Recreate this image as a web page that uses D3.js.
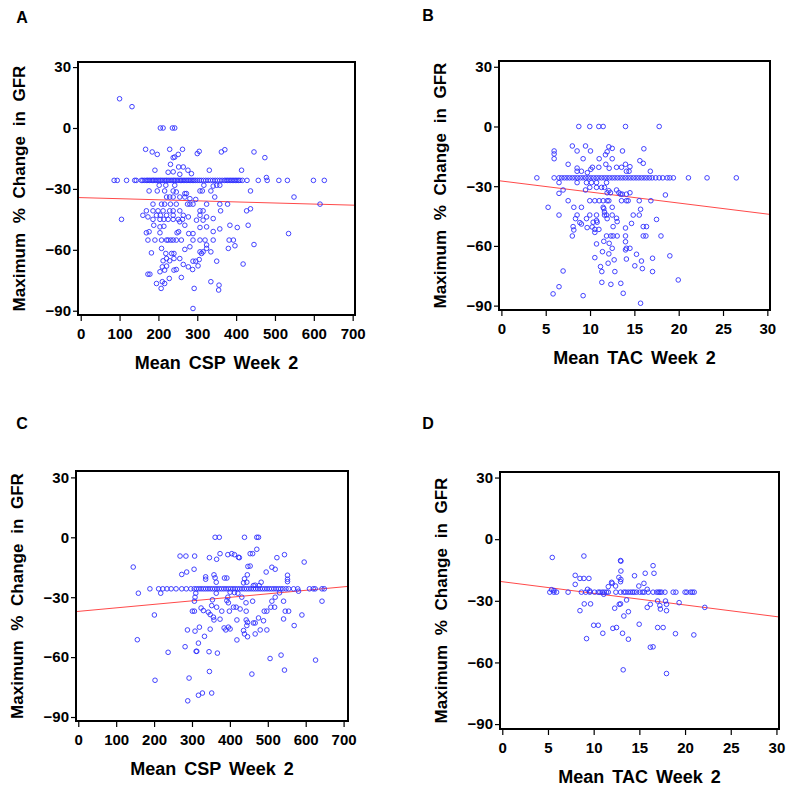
<!DOCTYPE html>
<html>
<head>
<meta charset="utf-8">
<script src="https://cdn.jsdelivr.net/npm/d3@7"></script>
<style>
  body { margin: 0; background: #fff; }
  svg text { font-family: "Liberation Sans", Arial, sans-serif; font-weight: bold; fill: #000; }
</style>
</head>
<body>
<div id="chart"></div>
<script>
// tick labels
var cspTicks = [0, 100, 200, 300, 400, 500, 600, 700];
var tacTicks = [0, 5, 10, 15, 20, 25, 30];
var gfrTicks = [30, 0, -30, -60, -90];

// value of the crowded horizontal row of points
var bandY = -25.8;

// panel A: CSP, first cohort
var bandA = [86, 94, 118, 139, 143, 156, 160, 165, 170, 173, 177, 181, 185, 188, 192, 196, 200, 204, 207, 211, 215, 219, 222, 226, 230, 234, 238, 241, 245, 249, 253, 257, 260, 264, 268, 272, 276, 279, 283, 287, 291, 295, 300, 305, 310, 316, 322, 328, 334, 340, 346, 352, 358, 364, 370, 374, 378, 382, 386, 390, 394, 398, 402, 406, 410, 416, 428, 457, 480, 510, 532, 599, 627];
var pointsA = [
  [100, 14.4], [132, 10.5], [205, 0], [212, 0], [236, 0], [242, 0],
  [167, -10.5], [184, -11.8], [197, -13], [229, -10.5], [262, -10.5], [251, -13], [242, -14.3], [238, -14.6],
  [300, -12.6], [305, -11.5], [362, -11.8], [371, -10.7], [446, -11.8], [474, -14.6],
  [231, -17.9], [252, -19.2], [264, -19.2], [191, -20.8], [276, -20.8], [285, -22.5], [331, -20.8], [414, -20.8],
  [255, -22.8], [225, -21.8], [238, -21.6], [478, -24.4],
  [202, -28.2], [219, -28.2], [242, -28.2], [317, -28.2], [341, -28.6], [350, -28.2], [358, -28.2],
  [176, -31], [197, -31], [216, -31], [238, -31], [246, -31.5], [268, -32.3], [272, -32.3], [307, -31], [313, -31], [335, -31], [437, -31],
  [345, -34], [549, -34], [221, -34], [229, -34], [238, -34], [255, -34], [268, -34], [281, -34.8], [296, -35.2],
  [186, -37.5], [208, -37.5], [216, -37.5], [231, -37.5], [246, -37.5], [275, -37.5], [281, -37.5], [289, -37.5], [324, -37.5], [358, -37.5], [378, -37.5], [616, -37.5],
  [169, -40.8], [186, -40.8], [199, -40.8], [212, -40.8], [229, -40.8], [238, -40.8], [255, -40.8], [307, -40.8], [315, -40.8], [360, -40.8], [427, -40.8], [437, -39.8],
  [160, -43], [173, -43.8], [195, -43], [205, -43], [221, -43], [238, -43], [264, -43], [277, -43.8], [307, -43], [324, -43.8], [341, -44.6],
  [105, -45], [186, -45], [204, -45], [214, -45], [225, -45], [238, -45], [251, -45], [262, -45], [298, -45.4], [315, -45.4],
  [188, -47.9], [204, -48.7], [214, -48.4], [255, -46.2], [268, -47.9], [307, -49], [324, -48.7], [384, -47.9], [403, -49], [431, -47.9], [358, -49.7],
  [169, -51.6], [176, -51.1], [204, -51.6], [248, -51.6], [252, -51.1], [278, -52], [289, -52], [341, -51], [535, -52],
  [173, -55.2], [191, -55.2], [208, -55.2], [221, -55.2], [225, -55.2], [232, -55.2], [238, -55.2], [246, -55.2], [259, -55.2],
  [289, -55.2], [307, -55.2], [320, -55.2], [341, -55.2], [382, -55.2], [393, -55.2],
  [281, -58.5], [324, -57.6], [324, -59.3], [268, -59.8], [208, -59.3], [219, -61.8], [234, -61.8], [240, -61.8],
  [307, -61], [311, -61.8], [315, -61], [335, -61], [380, -59.3], [397, -58], [446, -57.4], [182, -61.5],
  [212, -65.4], [221, -64.3], [229, -65.4], [240, -64.3], [255, -64.3], [289, -65.6], [296, -65.6], [305, -64.8], [350, -65.6], [418, -67],
  [264, -67.2], [277, -68.4], [210, -68.4], [221, -68], [302, -67.9],
  [204, -70.8], [216, -70], [240, -70], [246, -69.7], [288, -69.7], [173, -72], [178, -72],
  [228, -74.1], [259, -73.6], [195, -76.6], [210, -75.7], [216, -76.6], [335, -75.7], [356, -77.4], [355, -79.8],
  [207, -79], [292, -79], [289, -88.9]
];
var trendA = [[0, -34.3], [700, -38.0]];

// panel B: TAC, first cohort
var bandB = [4.0, 5.95, 6.5, 6.8, 7.1, 7.4, 7.7, 8.0, 8.3, 8.6, 8.9, 9.2, 9.5, 9.8, 10.1, 10.4, 10.7, 11.0, 11.3, 11.6, 11.9, 12.2, 12.5, 12.8, 13.1, 13.4, 13.7, 14.0, 14.3, 14.6, 14.9, 15.2, 15.5, 15.8, 16.1, 16.4, 16.7, 17.0, 17.4, 17.8, 18.2, 18.7, 19.0, 19.4, 21.1, 23.2, 26.5];
var pointsB = [
  [8.73, 0], [9.97, 0], [10.99, 0], [11.48, 0], [14.0, 0], [17.8, 0],
  [8.0, -9.8], [9.49, -9.8], [10.05, -12.3], [8.54, -12.3], [5.95, -12.3], [5.95, -13.8], [5.95, -16.2],
  [12.12, -10.2], [12.5, -11], [11.93, -12.7], [11.74, -14.2], [12.5, -16.2], [11.03, -16.2], [9.22, -16.2],
  [13.66, -12.3], [16.07, -11.2], [15.62, -17.2], [16.0, -18.5], [7.53, -19], [11.78, -19],
  [8.54, -20.9], [9.03, -22.5], [8.54, -22.5], [10.27, -20.5], [10.09, -21.5], [10.99, -20.5], [12.16, -21],
  [12.99, -20.5], [13.55, -20.5], [14.0, -19], [14.5, -20.2], [14.4, -22.5], [14.1, -22.5], [16.8, -22.5], [9.7, -23.2],
  [6.5, -28.2], [8.54, -28.2], [9.6, -28.2], [10.16, -28.2], [10.73, -28.2], [11.86, -28.2],
  [6.96, -31.9], [6.5, -33.6], [9.49, -31.9], [9.97, -30.6], [10.73, -30.6], [11.3, -30.6], [11.63, -30.6],
  [12.12, -32.3], [11.93, -33.3], [12.3, -33.3], [12.99, -31.9], [13.25, -33.3], [13.44, -34], [13.63, -34], [14.1, -34], [14.5, -33.3], [18.5, -34.4],
  [7.53, -37.3], [9.97, -37.3], [10.54, -37.3], [11.03, -37.3], [11.48, -37.3], [11.93, -37.3], [12.12, -37.3],
  [13.55, -37.3], [14.1, -37.3], [14.3, -37.3], [15.55, -37.3], [16.86, -37.3],
  [5.27, -40.6], [8.17, -40.6], [9.03, -40.6], [11.48, -40.6], [11.55, -41.3], [12.5, -40.6], [15.7, -41.6],
  [11.63, -43], [11.63, -44.5], [6.5, -44.5], [8.54, -44.5], [9.97, -44.5], [10.73, -44.5], [11.86, -44.5], [12.5, -44.5], [14.87, -44.5], [15.55, -44.5],
  [8.36, -46.3], [9.6, -46.3], [10.73, -47.3], [10.35, -48.1], [10.8, -48.1], [11.93, -46.3], [12.99, -46.1], [13.06, -47.8],
  [14.68, -48.7], [17.5, -46.7], [8.85, -48.3], [9.03, -49],
  [8.09, -50.3], [8.17, -52], [8.0, -55], [9.67, -50.8], [10.24, -50.5], [10.54, -51.7], [11.0, -51.7], [12.6, -50.3], [14.0, -51],
  [16.0, -50.3], [16.37, -50.3], [10.54, -53.2],
  [11.86, -55], [12.35, -55], [12.6, -55], [13.06, -55], [14.0, -55], [16.0, -55], [16.3, -55], [18.0, -55],
  [11.55, -57.7], [12.16, -58.7], [14.0, -57.9], [14.1, -61.2], [14.0, -62], [10.73, -59], [12.5, -61.2], [14.5, -61.2],
  [11.4, -62.9], [12.12, -64], [15.24, -64.2], [10.54, -65.9], [12.72, -67], [14.1, -66.6], [15.8, -67.6], [17.05, -66.2], [19.0, -65],
  [12.04, -68.7], [15.05, -70], [11.18, -70.4], [15.9, -71.4], [11.33, -72.9], [12.8, -72.9], [17.05, -72.9], [6.96, -72.6],
  [19.95, -77.1], [11.33, -78.3], [12.35, -79.3], [13.47, -78.8], [6.5, -80.5], [5.83, -84.1], [9.22, -85], [13.74, -83.8], [15.7, -88.8]
];
var trendB = [[0, -27.4], [30, -44.0]];

// panel C: CSP, second cohort
var bandC = [189, 212, 223, 234, 245, 258, 273, 285, 297, 306, 312, 318, 324, 330, 336, 342, 348, 354, 360, 366, 372, 378, 384, 390, 396, 402, 408, 414, 420, 426, 432, 438, 444, 450, 456, 462, 468, 474, 480, 486, 492, 498, 504, 510, 516, 522, 528, 534, 540, 548, 555, 568, 579, 610, 620, 625, 643, 649];
var pointsC = [
  [361, 0], [372, 0], [438.5, 0], [471, 0], [475.5, 0], [471, -6],
  [268.5, -9.4], [284, -9.4], [307, -9.4], [346, -10.2], [365, -11], [374, -8.2], [394.5, -8.7], [405, -8.2], [412, -8.7],
  [422.6, -10], [425, -10.2], [453.5, -8.2], [460, -8.2], [447.5, -14.6], [453.5, -14.4], [524, -10.2], [544, -8.7], [596, -12.4],
  [145, -14.9], [305.5, -16], [273, -18.6], [286, -17.4], [336, -19.8], [336, -21], [358, -18.8], [361, -20.3], [364, -22.5],
  [385.7, -20.4], [392, -20.4], [438.5, -20.8], [436, -22.8], [446, -18.8], [495.7, -17.4], [510.7, -15], [519.5, -16],
  [552, -19], [552, -21], [552, -22.2], [482.5, -22.5], [466.7, -24], [477, -24.2], [462, -24.2], [444.6, -22.5],
  [217.5, -28], [158.5, -28], [310, -28], [308, -30], [364, -28], [400.6, -27.5], [412, -27.7], [421, -28], [431.4, -30],
  [394.5, -30], [392, -31.7], [396, -32.8], [354, -31.3], [306.4, -32], [442.5, -32.8], [460, -32], [510.7, -32], [519.5, -30],
  [541.6, -32], [531, -27.8], [581, -27], [643, -32],
  [508, -35], [518, -35], [409.5, -35], [416.5, -35], [427, -35.9], [324, -35.4], [330, -36.7], [352, -34.2], [365, -35],
  [301, -37], [306.4, -37], [343, -37.5], [348, -38.7], [356.6, -40], [358, -41.4], [378.6, -37], [398.6, -37], [443, -37],
  [490.6, -37], [497.5, -37], [546, -37], [555, -37], [200.8, -38.9], [475.5, -40.4], [374, -41], [418.5, -41.4],
  [443, -41.4], [446.5, -42.6], [488.7, -41.8], [541.6, -40.9], [590, -38.9], [462, -42.9], [466.7, -42.9], [444.6, -44.2],
  [569.6, -44.2], [384.8, -45.4], [396, -45], [400.6, -45.9], [348, -46], [319.6, -45], [288, -46.4], [308, -47], [436, -46.7],
  [389.2, -46.4], [480, -46.4], [497.5, -46.4], [446.5, -49.8], [438.5, -48.4], [466.7, -48.4], [333, -49.6],
  [155.8, -51.3], [418.5, -51.4], [317, -53], [281.8, -54.8], [237, -57.6], [311, -57.1], [312.6, -57.1], [345, -57.3], [367, -58],
  [506, -60.7], [535, -59], [626, -61.5], [346, -67.2], [544, -66.5], [458, -68.5], [292.3, -70.5], [202.5, -71.6],
  [327.5, -78], [317, -79.1], [352, -78], [288.8, -81.9]
];
var trendC = [[0, -37.1], [700, -24.8]];

// panel D: TAC, second cohort
var bandD = [5.2, 5.65, 5.94, 7.2, 8.66, 9.13, 9.58, 10.1, 10.5, 10.68, 10.94, 11.15, 11.4, 11.6, 12.43, 12.94, 13.3, 13.5, 13.77, 14.03, 14.25, 14.43, 14.69, 15.05, 15.34, 15.53, 15.97, 16.5, 16.9, 17.1, 17.25, 17.43, 17.8, 18.7, 19.0, 20.0, 20.2, 20.6, 20.8, 21.0];
var pointsD = [
  [5.47, -8.9], [8.93, -8.2], [12.94, -10.4], [12.98, -10.7], [16.5, -12.9], [12.98, -15.5], [15.64, -16.6], [16.6, -16.6],
  [7.98, -17.6], [14.47, -17.8], [8.5, -19.1], [8.93, -19.1], [9.48, -19.1], [12.76, -18.6], [12.98, -19.6], [12.94, -20.7],
  [11.96, -21], [12.03, -21.5], [7.98, -22], [11.6, -23.1], [12.4, -22.8], [14.94, -22.8], [15.5, -21.5], [15.86, -24.4],
  [9.33, -24.4], [9.58, -25.2], [5.4, -24.6], [5.65, -25],
  [11.1, -26.8], [13.6, -29.6], [8.97, -31.5], [9.66, -31.5], [12.94, -31.5], [12.8, -31.7], [17.0, -30.1], [17.86, -30.1],
  [17.97, -31.7], [17.97, -34.8], [17.24, -32.3], [17.3, -34], [16.2, -31.7], [15.86, -33.2], [19.35, -30.9], [22.16, -33.2],
  [8.5, -34.8], [12.3, -33.6], [13.8, -35.3], [13.3, -37.4], [14.98, -41.4], [10.0, -41.9], [10.5, -41.9], [12.1, -43.4],
  [12.5, -43], [17.0, -43], [17.6, -43], [11.0, -45.8], [13.16, -45.8], [18.95, -46], [20.96, -46.6], [9.22, -48.4],
  [13.8, -48.7], [16.2, -52.6], [16.5, -52.4], [13.23, -63.6], [17.97, -65.4]
];
var trendD = [[0, -20.7], [30, -37.7]];

var svg = d3.select('#chart').append('svg')
  .attr('width', 793)
  .attr('height', 792);

function drawPanel(p) {
  var x = d3.scaleLinear().domain(p.xDomain).range([p.left, p.right]);
  var y = d3.scaleLinear().domain(p.yDomain).range([p.bottom, p.top]);
  var g = svg.append('g');

  var pts = p.points.concat(p.band.map(function(v) { return [v, bandY]; }));

  // trend line across the whole frame
  var t = p.trend;
  var slope = (t[1][1] - t[0][1]) / (t[1][0] - t[0][0]);
  var fit = function(v) { return t[0][1] + slope * (v - t[0][0]); };
  g.append('line')
    .attr('x1', x(p.xDomain[0])).attr('y1', y(fit(p.xDomain[0])))
    .attr('x2', x(p.xDomain[1])).attr('y2', y(fit(p.xDomain[1])))
    .attr('stroke', '#ff4a4a')
    .attr('stroke-width', 1);

  g.selectAll('circle')
    .data(pts)
    .enter().append('circle')
    .attr('cx', function(d) { return x(d[0]); })
    .attr('cy', function(d) { return y(d[1]); })
    .attr('r', 2.3)
    .attr('fill', 'none')
    .attr('stroke', '#2f2fff')
    .attr('stroke-width', 0.9);

  // frame
  g.append('rect')
    .attr('x', p.left).attr('y', p.top)
    .attr('width', p.right - p.left).attr('height', p.bottom - p.top)
    .attr('fill', 'none').attr('stroke', '#000').attr('stroke-width', 2);

  var xAxis = g.append('g')
    .attr('transform', 'translate(0,' + (p.bottom + 1) + ')')
    .call(d3.axisBottom(x).tickValues(p.xTicks).tickSize(5).tickPadding(7).tickSizeOuter(0));
  var yAxis = g.append('g')
    .attr('transform', 'translate(' + (p.left - 1) + ',0)')
    .call(d3.axisLeft(y).tickValues(gfrTicks).tickSize(4).tickPadding(2).tickSizeOuter(0));
  [xAxis, yAxis].forEach(function(a) {
    a.select('.domain').remove();
    a.selectAll('.tick line').attr('stroke', '#000').attr('stroke-width', 1.2);
    a.selectAll('.tick text')
      .style('font-family', '"Liberation Sans", Arial, sans-serif')
      .style('font-weight', 'bold')
      .style('font-size', '15px')
      .attr('fill', '#000');
  });

  g.append('text')
    .attr('x', (p.left + p.right) / 2)
    .attr('y', p.bottom + 54)
    .attr('text-anchor', 'middle')
    .style('font-size', '18px')
    .style('word-spacing', '3px')
    .text(p.xLabel);

  g.append('text')
    .attr('transform', 'translate(' + (p.left - 53) + ',' + ((p.top + p.bottom) / 2) + ') rotate(-90)')
    .attr('text-anchor', 'middle')
    .style('font-size', '17px')
    .style('word-spacing', '5px')
    .text('Maximum % Change in GFR');

  g.append('text')
    .attr('x', p.tagX).attr('y', p.tagY)
    .attr('text-anchor', 'middle')
    .style('font-size', '16px')
    .text(p.tag);
}

drawPanel({ tag: 'A', tagX: 22, tagY: 23, left: 78, right: 355, top: 62, bottom: 315,
  xDomain: [-7, 706], yDomain: [-92.1, 32.5], xTicks: cspTicks, xLabel: 'Mean CSP Week 2',
  points: pointsA, band: bandA, trend: trendA });
drawPanel({ tag: 'B', tagX: 428, tagY: 21, left: 499, right: 770, top: 61, bottom: 310,
  xDomain: [-0.27, 30.3], yDomain: [-92.2, 32.9], xTicks: tacTicks, xLabel: 'Mean TAC Week 2',
  points: pointsB, band: bandB, trend: trendB });
drawPanel({ tag: 'C', tagX: 22, tagY: 429, left: 76, right: 348, top: 471, bottom: 721,
  xDomain: [-6, 711.6], yDomain: [-92, 33.2], xTicks: cspTicks, xLabel: 'Mean CSP Week 2',
  points: pointsC, band: bandC, trend: trendC });
drawPanel({ tag: 'D', tagX: 428, tagY: 429, left: 500, right: 779, top: 472, bottom: 729,
  xDomain: [-0.25, 30.28], yDomain: [-92.4, 32.7], xTicks: tacTicks, xLabel: 'Mean TAC Week 2',
  points: pointsD, band: bandD, trend: trendD });
</script>
</body>
</html>
